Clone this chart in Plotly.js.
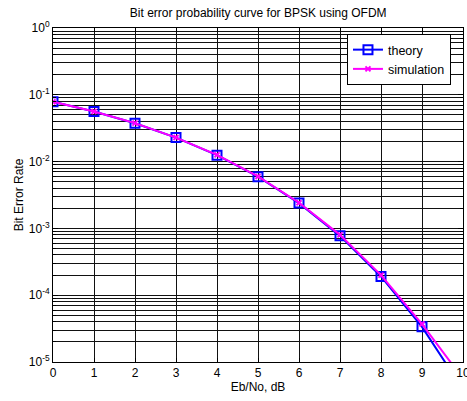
<!DOCTYPE html>
<html>
<head>
<meta charset="utf-8">
<script src="https://cdn.plot.ly/plotly-3.0.1.min.js"></script>
<style>html,body{margin:0;padding:0;background:#fff;}#chart{width:467px;height:401px;}</style>
</head>
<body>
<div id="chart"></div>
<script>
const ebno = [0, 1, 2, 3, 4, 5, 6, 7, 8, 9, 10];
const theoryBer = [0.0786, 0.0563, 0.0375, 0.0229, 0.0125, 0.00595, 0.00239, 0.000773, 0.000191, 3.36e-5, 3.87e-6];
const simBer = [0.0785, 0.0562, 0.0377, 0.0229, 0.0126, 0.0060, 0.00242, 0.00080, 0.000200, 3.7e-5, 5.6e-6];
const yTickVals = [1, 0.1, 0.01, 0.001, 0.0001, 0.00001];
const yTickText = ['10<sup>0</sup>', '10<sup>-1</sup>', '10<sup>-2</sup>', '10<sup>-3</sup>', '10<sup>-4</sup>', '10<sup>-5</sup>'];
const xTickVals = [0, 1, 2, 3, 4, 5, 6, 7, 8, 9, 10];

const gridCol = '#111';
const traces = [
  {
    x: ebno, y: theoryBer, name: 'theory', type: 'scatter', mode: 'lines+markers',
    line: {color: '#0000ff', width: 2},
    marker: {symbol: 'square-open', size: 9, color: '#0000ff', line: {width: 2, color: '#0000ff'}}
  },
  {
    x: ebno, y: simBer, name: 'simulation', type: 'scatter', mode: 'lines+markers',
    line: {color: '#ff00ff', width: 2},
    marker: {symbol: 'x-thin-open', size: 5, color: '#ff00ff', line: {width: 2, color: '#ff00ff'}}
  }
];
const layout = {
  width: 467, height: 401,
  margin: {l: 53, r: 4, t: 28, b: 39},
  paper_bgcolor: '#fff', plot_bgcolor: '#fff',
  font: {family: 'Liberation Sans, Arial, sans-serif', size: 12, color: '#000'},
  title: {text: 'Bit error probability curve for BPSK using OFDM', font: {size: 12}, x: 0.553, xanchor: 'center', y: 0.968, yanchor: 'middle'},
  xaxis: {
    range: [0, 10], tickvals: xTickVals, ticks: 'inside', ticklen: 4, tickcolor: '#000',
    ticklabeloverflow: 'allow',
    showline: true, linecolor: '#000', linewidth: 1, mirror: 'ticks',
    showgrid: true, gridcolor: gridCol, gridwidth: 1, zeroline: false,
    title: {text: 'Eb/No, dB', font: {size: 12}, standoff: 3},
    tickfont: {size: 12}
  },
  yaxis: {
    type: 'log', range: [-5, 0], tickvals: yTickVals, ticktext: yTickText,
    ticks: 'inside', ticklen: 5, tickcolor: '#000',
    showline: true, linecolor: '#000', linewidth: 1, mirror: 'ticks',
    showgrid: true, gridcolor: gridCol, gridwidth: 1, zeroline: false,
    minor: {dtick: 'D1', showgrid: true, gridcolor: gridCol, gridwidth: 1, ticks: 'inside', ticklen: 3, tickcolor: '#000'},
    title: {text: 'Bit Error Rate', font: {size: 12}, standoff: 2},
    tickfont: {size: 12}
  },
  legend: {
    x: 0.717, y: 0.982, xanchor: 'left', yanchor: 'top',
    bgcolor: '#fff', bordercolor: '#000', borderwidth: 1,
    font: {size: 12.5}, tracegroupgap: 0
  },
  showlegend: true
};
Plotly.newPlot('chart', traces, layout, {displayModeBar: false, staticPlot: true});
</script>
</body>
</html>
